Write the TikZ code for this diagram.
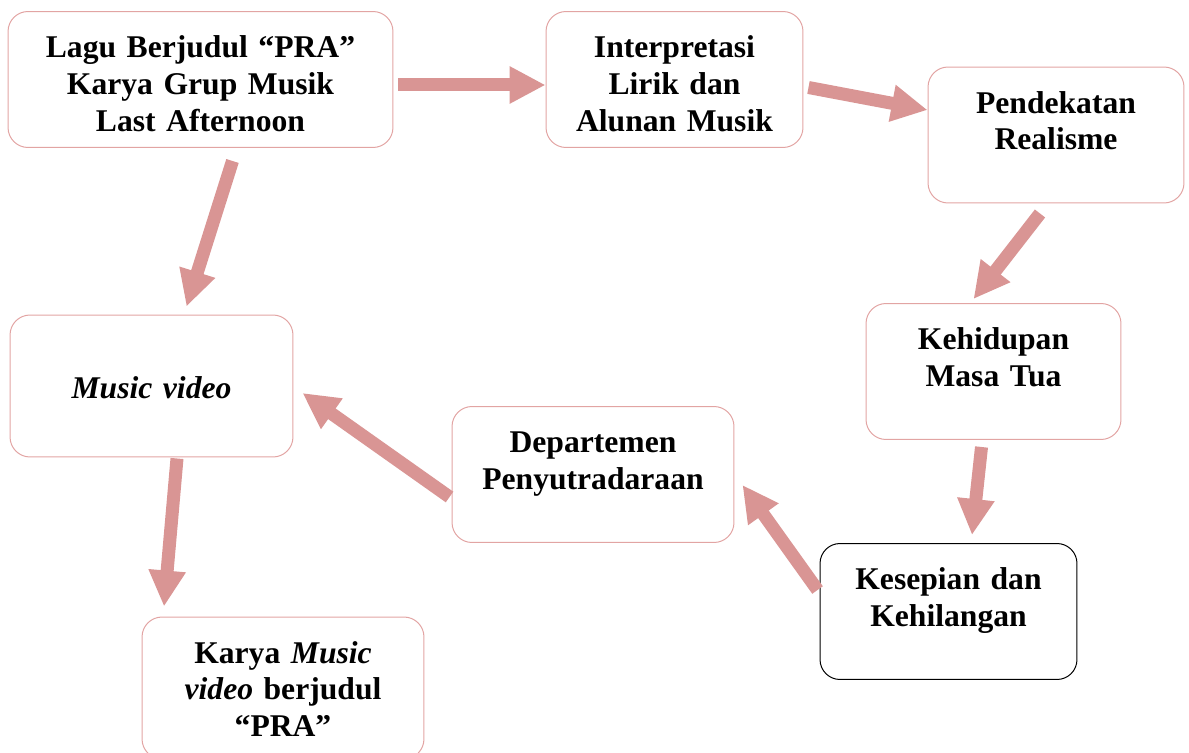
\documentclass[tikz,border=0pt]{standalone}
\usepackage{fontspec}
\setmainfont{Liberation Serif}
\usetikzlibrary{calc,arrows.meta}
\definecolor{pink}{HTML}{D99594}
\definecolor{rim}{HTML}{E2A4A3}

\begin{document}
\begin{tikzpicture}[x=0.02cm,y=-0.02cm,
  box/.style={draw=rim,line width=0.02cm,rounded corners=0.4cm,inner sep=0pt,align=center,
    font=\fontsize{18}{21}\selectfont\bfseries,text height=0.92cm,text depth=1.8cm},
  flow/.style={draw=pink,line width=0.26cm,-{Triangle[length=0.72cm,width=0.7cm]}}]
  \useasboundingbox (0,0) rectangle (1189,753);

  % boxes
  \node[box,text width=7.7cm] (lagu) at (200.5,79.5) {Lagu Berjudul “PRA”\\Karya Grup Musik\\Last Afternoon};
  \node[box,text width=5.14cm] (interp) at (674.5,79.5) {Interpretasi\\Lirik dan\\Alunan Musik};
  \node[box,text width=5.12cm] (pend) at (1056,135) {Pendekatan\\Realisme};
  \node[box,text width=5.1cm] (tua) at (993.5,371.5) {Kehidupan\\Masa Tua};
  \node[box,draw=black,text width=5.14cm] (sepi) at (948.5,611.5) {Kesepian dan\\Kehilangan};
  \node[box,text width=5.64cm] (dept) at (593,474.5) {Departemen\\Penyutradaraan};
  \node[box,text width=5.66cm,text height=1.66cm,text depth=1.18cm] (mv) at (151.5,386) {\textit{Music video}};
  \node[box,text width=5.64cm,text depth=1.92cm] (karya) at (283,688) {Karya \textit{Music}\\\textit{video} berjudul\\“PRA”};

  % arrows
  \draw[flow] ($(lagu.east)+(5,5.5)$) -- ($(interp.west)+(0,5.5)$);
  \draw[flow] ($(interp.east)+(5,8)$) -- ($(pend.west)+(0,-25)$);
  \draw[flow] ($(lagu.south)+(32,13)$) -- ($(mv.north)+(35,-8)$);
  \draw[flow] ($(pend.south)+(-16,10)$) -- ($(tua.north)+(-20,-4)$);
  \draw[flow] ($(tua.south)+(-12,7)$) -- ($(sepi.north)+(23.5,-8)$);
  \draw[flow] ($(sepi.west)+(-2,-21.5)$) -- ($(dept.east)+(8,10.5)$);
  \draw[flow] ($(dept.west)+(-2,22.5)$) -- ($(mv.east)+(9,7)$);
  \draw[flow] ($(mv.south)+(25.5,1)$) -- ($(karya.north)+(-119,-10)$);
\end{tikzpicture}
\end{document}
